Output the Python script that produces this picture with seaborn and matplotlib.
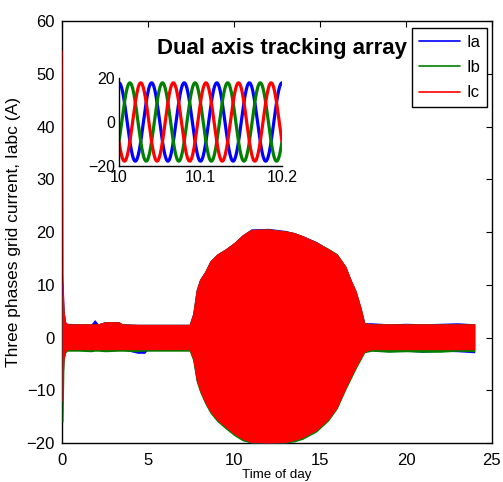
import numpy as np
import pandas as pd
import matplotlib
matplotlib.use("Agg")
import matplotlib.pyplot as plt
from matplotlib.lines import Line2D
import seaborn as sns

# ---------------- data ----------------
# envelope of each phase current over the day (hours), in A
t_knots = [0, 0.03, 0.06, 0.12, 0.2, 0.3, 1.0, 1.7, 1.9, 2.1, 2.5, 3.3, 3.5, 4.4, 4.6, 4.8, 5.0,
           6.0, 7.4, 7.6, 7.8, 8.0, 8.3, 8.6, 9.0, 9.5, 10.0, 10.5, 11.0, 12.0, 13.0, 13.5,
           14.0, 14.8, 15.5, 16.0, 16.5, 16.8, 17.1, 17.4, 17.6, 18.0, 19.0, 20.0, 21.0,
           22.0, 23.0, 24.0]

ia_upper = [10.3, 10.3, 10.3, 5.1, 3.0, 2.7, 2.6, 2.6, 3.4, 2.6, 3.0, 3.0, 2.6, 2.5, 2.5, 2.5, 2.5,
            2.5, 2.5, 4.5, 9.0, 11.0, 12.5, 14.5, 15.8, 16.8, 18.0, 19.5, 20.6, 20.7, 20.3, 19.9,
            19.3, 18.2, 16.8, 15.8, 13.5, 11.0, 8.8, 5.5, 2.8, 2.8, 2.6, 2.7, 2.6,
            2.7, 2.8, 2.6]
ia_lower = [-12.0, -12.0, -8.0, -4.0, -2.8, -2.3, -2.3, -2.4, -2.3, -2.3, -2.3, -2.3, -2.3, -3.0, -3.0, -3.0, -2.3,
            -2.3, -2.3, -4.0, -8.0, -10.0, -12.3, -14.0, -15.6, -17.0, -18.4, -19.4, -20.0, -20.0, -20.0, -19.5,
            -19.0, -17.6, -15.5, -13.3, -9.6, -7.6, -5.6, -3.8, -2.7, -2.5, -2.7, -2.6, -2.8,
            -2.6, -2.7, -2.9]
ib_upper = [8.0, 8.0, 8.0, 5.0, 3.0, 2.6, 2.6, 2.6, 2.6, 2.6, 3.0, 3.0, 2.6, 2.5, 2.5, 2.5, 2.5,
            2.5, 2.5, 4.5, 9.0, 11.0, 12.5, 14.5, 15.8, 16.8, 18.0, 19.5, 20.5, 20.6, 20.2, 19.9,
            19.3, 18.1, 16.9, 15.9, 13.5, 11.0, 8.8, 5.5, 2.8, 2.6, 2.6, 2.6, 2.6,
            2.6, 2.6, 2.6]
ib_lower = [-16.0, -16.0, -16.0, -4.4, -3.0, -2.6, -2.6, -2.7, -2.6, -2.6, -2.7, -2.6, -2.6, -2.7, -2.6, -2.6, -2.6,
            -2.6, -2.6, -4.3, -8.3, -10.3, -12.5, -14.3, -15.9, -17.3, -18.6, -19.6, -20.0, -20.0, -20.0, -19.8,
            -19.3, -17.9, -15.8, -13.5, -9.9, -7.9, -5.9, -4.1, -2.9, -2.6, -2.8, -2.7, -2.8,
            -2.8, -2.6, -2.7]
ic_upper = [54.5, 54.5, 12.0, 5.0, 3.0, 2.6, 2.6, 2.6, 2.6, 2.6, 3.0, 3.0, 2.6, 2.5, 2.5, 2.5, 2.5,
            2.5, 2.5, 4.5, 9.0, 11.0, 12.5, 14.5, 15.8, 16.8, 18.0, 19.5, 20.5, 20.6, 20.2, 19.9,
            19.3, 18.1, 16.8, 15.8, 13.5, 11.0, 8.8, 5.5, 2.8, 2.6, 2.6, 2.6, 2.6,
            2.6, 2.6, 2.6]
ic_lower = [-12.0, -12.0, -8.0, -4.0, -2.8, -2.3, -2.3, -2.3, -2.3, -2.3, -2.3, -2.3, -2.3, -2.3, -2.3, -2.3, -2.3,
            -2.3, -2.3, -4.0, -8.0, -10.0, -12.3, -14.0, -15.6, -17.0, -18.3, -19.3, -19.9, -20.0, -19.9, -19.5,
            -19.0, -17.6, -15.5, -13.3, -9.6, -7.6, -5.6, -3.8, -2.7, -2.3, -2.3, -2.3, -2.3,
            -2.3, -2.3, -2.3]

phase_names = ["Ia", "Ib", "Ic"]
phase_colors = ["#0000FF", "#008000", "#FF0000"]

# zoomed window (inset): sinusoidal phase currents
inset_start, inset_end = 10.0, 10.2
inset_amplitude = 17.8          # A (peak)
inset_period = 0.04             # time units per cycle
inset_phase_deg = [0, -120, 120]

main_xticks = [0, 5, 10, 15, 20, 25]
main_yticks = [-20, -10, 0, 10, 20, 30, 40, 50, 60]
inset_xticks = [10, 10.1, 10.2]
inset_xticklabels = ["10", "10.1", "10.2"]
inset_yticks = [-20, 0, 20]

title_text = "Dual axis tracking array"
xlabel_text = "Time of day"
ylabel_text = "Three phases grid current, Iabc (A)"

# ---------------- figure ----------------
sns.set_theme(style="white")
plt.rcParams["font.family"] = ["Liberation Sans", "DejaVu Sans"]
plt.rcParams["text.color"] = "black"
plt.rcParams["axes.labelcolor"] = "black"
plt.rcParams["xtick.color"] = "black"
plt.rcParams["ytick.color"] = "black"

fig = plt.figure(figsize=(5.03, 4.82), dpi=100)
ax = fig.add_axes([0.1233, 0.0809, 0.8547, 0.8755])

envelopes = [(ia_upper, ia_lower), (ib_upper, ib_lower), (ic_upper, ic_lower)]
for name, col, (up, lo) in zip(phase_names, phase_colors, envelopes):
    ax.fill_between(t_knots, lo, up, color=col, linewidth=0, zorder=2)
    df = pd.DataFrame({"t": t_knots, "v": up})
    sns.lineplot(data=df, x="t", y="v", ax=ax, color=col, lw=0, legend=False, zorder=2)

ax.set_xlim(0, 25)
ax.set_ylim(-20, 60)
ax.set_xticks(main_xticks)
ax.set_yticks(main_yticks)
ax.tick_params(direction="in", length=4, width=0.8, top=True, right=True,
               labelsize=12, colors="black", pad=5)
ax.tick_params(axis="x", pad=7)
for s in ax.spines.values():
    s.set_color("black")
    s.set_linewidth(1.0)
    s.set_visible(True)
    s.set_zorder(1.5)

ax.set_xlabel(xlabel_text, fontsize=9.6, labelpad=1)
ax.set_ylabel(ylabel_text, fontsize=12.5, labelpad=4)
ax.text(0.512, 0.934, title_text, transform=ax.transAxes, ha="center", va="center",
        fontsize=16, fontweight="bold", color="black")

handles = [Line2D([0], [0], color=c, lw=1.2) for c in phase_colors]
leg = ax.legend(handles, phase_names, loc="upper right", bbox_to_anchor=(0.989, 0.984), fontsize=12,
                frameon=True, fancybox=False, framealpha=1, edgecolor="black",
                handlelength=2.45, handletextpad=0.4, labelspacing=0.62,
                borderpad=0.42, borderaxespad=0)
leg.get_frame().set_linewidth(1.0)

# inset
ins = fig.add_axes([0.2366, 0.6556, 0.324, 0.1826])
t_in = np.linspace(inset_start, inset_end, 3001)
for name, col, ph in zip(phase_names, phase_colors, inset_phase_deg):
    y = inset_amplitude * np.cos(2 * np.pi * (t_in - inset_start) / inset_period + np.deg2rad(ph))
    sns.lineplot(x=t_in, y=y, ax=ins, color=col, lw=2.3, legend=False)
ins.set_xlim(inset_start, inset_end)
ins.set_ylim(-20, 20)
ins.set_xticks(inset_xticks)
ins.set_xticklabels(inset_xticklabels)
ins.set_yticks(inset_yticks)
ins.tick_params(direction="in", length=2, labelsize=11.5, colors="black", pad=3)
ins.patch.set_alpha(0)
ins.spines["top"].set_visible(False)
ins.spines["right"].set_visible(False)
ins.spines["left"].set_color("black")
ins.spines["bottom"].set_color("black")
ins.spines["left"].set_linewidth(1.0)
ins.spines["bottom"].set_linewidth(1.0)
ins.set_xlabel("")
ins.set_ylabel("")

fig.savefig("out.png", dpi=100)
